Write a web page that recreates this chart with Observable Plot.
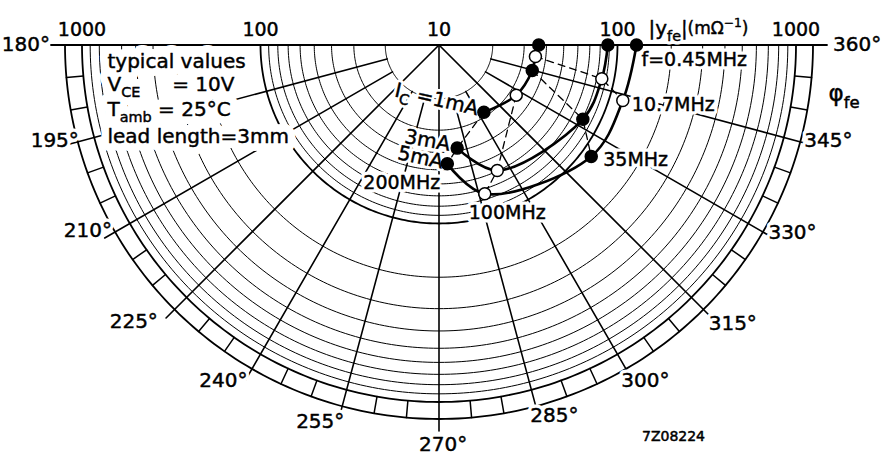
<!DOCTYPE html>
<html><head><meta charset="utf-8">
<script src="https://cdn.jsdelivr.net/npm/d3@7"></script>
<script src="https://cdn.jsdelivr.net/npm/@observablehq/plot@0.6"></script>
<style>html,body{margin:0;padding:0;background:#fff;} text{white-space:pre;}</style>
</head><body><div id="chart"></div>
<script>
// ---------- data ----------
const currents = ["1mA", "3mA", "5mA"];
const frequencies = ["0.45MHz", "10.7MHz", "35MHz", "100MHz", "200MHz"];
const markerFilled = [true, false, true, false, true];
// |y_fe| in mA/V (log radius) and phase in degrees
const mag1mA   = [36.2, 35.0, 34.8, 32.8, 28.4];
const phase1mA = [360, 353.2, 344.7, 327.0, 303.7];
const mag3mA   = [88.3, 85.4, 80.7, 59.6, 38.6];
const phase3mA = [360, 348.3, 332.7, 294.9, 280.0];
const mag5mA   = [127.8, 119.0, 114.0, 74.5, 46.5];
const phase5mA = [360, 343.2, 323.8, 287.1, 274.0];

// grid / tick values
const magCircles = [20, 30, 40, 50, 60, 70, 80, 90, 100, 200, 300, 400, 500, 600, 700, 800, 900, 1000];
const decadeCircles = [100, 1000];
const magTickValues = [1000, 100, 10, 100, 1000];
const magTickSide = [180, 180, 0, 0, 0];
const angleMajor = [180, 195, 210, 225, 240, 255, 270, 285, 300, 315, 330, 345, 360];
const angleThroughCentre = [225, 270, 315];
const angleMinor = d3.range(185, 360, 5).filter(a => a % 15 !== 0);

// ---------- geometry ----------
const W = 888, H = 462;
const cx = 438.5, cy = 44.5, D = 178.5;       // centre = |y|=10, one decade = D px
const R_OUT = 374, R_EXT = 386;
const rad = d => d * Math.PI / 180;
const rOf = m => D * Math.log10(m / 10);
const px = (r, a) => cx + r * Math.cos(rad(a));
const py = (r, a) => cy - r * Math.sin(rad(a));
const arcDeg = d3.range(180, 360.001, 1);
const arc = (key, r) => arcDeg.map(a => ({key, x: px(r, a), y: py(r, a)}));

const thinArcs = magCircles.filter(m => !decadeCircles.includes(m)).flatMap(m => arc(m, rOf(m)));
const thickArcs = decadeCircles.flatMap(m => arc(m, rOf(m))).concat(arc("outer", R_OUT));
const radials = angleMajor.filter(a => a > 180 && a < 360).flatMap(a => {
  const r0 = angleThroughCentre.includes(a) ? 0 : rOf(20);
  return [r0, R_EXT].map(r => ({a, x: px(r, a), y: py(r, a)}));
});
const minorTicks = angleMinor.flatMap(a => [rOf(1000), R_OUT].map(r => ({a, x: px(r, a), y: py(r, a)})));
const axisLine = [{x: px(R_EXT + 2, 180), y: cy}, {x: px(R_EXT + 2, 0), y: cy}];

const series = [
  {current: currents[0], mag: mag1mA, phase: phase1mA},
  {current: currents[1], mag: mag3mA, phase: phase3mA},
  {current: currents[2], mag: mag5mA, phase: phase5mA}
];
const pts = series.flatMap(s => frequencies.map((f, i) => {
  const r = rOf(s.mag[i]);
  return {current: s.current, freq: f, i, filled: markerFilled[i], x: px(r, s.phase[i]), y: py(r, s.phase[i])};
}));

// ---------- labels ----------
const topLabels = magTickValues.map((m, i) => ({text: String(m), x: px(rOf(m), magTickSide[i]), y: cy}));
const degLabelAngle = [180, 194, 207.8, 222.2, 237.3, 252.5, 270.6, 287.3, 301.6, 316.5, 332.1, 346.2, 360];
const degLabelRadius = [389, 396, 397, 412, 399, 395, 400, 388, 394, 405, 400, 401, 394];
const degLabels = angleMajor.map((a, i) => ({
  a, text: a + "°", x: px(degLabelRadius[i], degLabelAngle[i]), y: py(degLabelRadius[i], degLabelAngle[i])
}));
const five = pts.filter(d => d.current === "5mA");
const freqText = ["f=0.45MHz", "10.7MHz", "35MHz", "100MHz", "200MHz"];
const freqDx = [5, 9, 12, -16, -84];
const freqDy = [15, 4, 3, 19, 19];
const freqLabels = five.map((d, i) => ({text: freqText[i], x: d.x + freqDx[i], y: d.y + freqDy[i]}));
const infoLines = [
  {text: "typical values", x: 107, y: 60.6},
  {text: "V_{CE}\u00a0\u00a0\u00a0\u00a0\u00a0= 10V", x: 107, y: 83.6},
  {text: "T_{amb} = 25°C", x: 107, y: 108.6},
  {text: "lead length=3mm", x: 107, y: 135.6}
];
const currentLabels = [
  {text: "I_{C} =1mA", x: 436, y: 99, rot: 13},
  {text: "3mA", x: 427, y: 140, rot: 10},
  {text: "5mA", x: 420, y: 157, rot: 12}
];

// text with a white halo drawn underneath all texts of the group
function label(data, opts, haloWidth = 7) {
  const base = {x: "x", y: "y", text: "text", ...opts};
  return [
    Plot.text(data, {...base, fill: "white", stroke: "white", strokeWidth: haloWidth, strokeLinejoin: "round"}),
    Plot.text(data, {...base, fill: "black", stroke: "black", strokeWidth: 0.45})
  ];
}
const rot = d => d.rot;

const plot = Plot.plot({
  width: W, height: H, margin: 0,
  x: {domain: [0, W], range: [0, W], axis: null},
  y: {domain: [0, H], range: [0, H], axis: null},
  style: {fontFamily: "DejaVu Sans, sans-serif", background: "white", color: "black"},
  marks: [
    Plot.line(thinArcs, {x: "x", y: "y", z: "key", stroke: "black", strokeWidth: 1}),
    Plot.line(thickArcs, {x: "x", y: "y", z: "key", stroke: "black", strokeWidth: 1.8}),
    Plot.line(radials, {x: "x", y: "y", z: "a", stroke: "black", strokeWidth: 1.6}),
    Plot.line(minorTicks, {x: "x", y: "y", z: "a", stroke: "black", strokeWidth: 1.5}),
    Plot.line(axisLine, {x: "x", y: "y", stroke: "black", strokeWidth: 1.8}),
    ...label(infoLines, {textAnchor: "start", fontSize: 20}, 16),
    ...label(topLabels, {dy: -15, fontSize: 19}),
    ...label(degLabels.filter(d => d.a === 180), {textAnchor: "end", fontSize: 20}),
    ...label(degLabels.filter(d => d.a === 360), {textAnchor: "start", fontSize: 20}),
    ...label(degLabels.filter(d => d.a > 180 && d.a < 360), {fontSize: 20}),
    ...label(freqLabels, {textAnchor: "start", fontSize: 19}),
    ...label(currentLabels, {rotate: rot, fontSize: 20}, 6),
    ...label([{text: "|y_{fe}|", x: 648, y: 27.6}], {textAnchor: "start", fontSize: 20}),
    ...label([{text: "(mΩ^{−1})", x: 687, y: 28.5}], {textAnchor: "start", fontSize: 17}),
    ...label([{text: "φ_{fe}", x: 828, y: 93}], {textAnchor: "start", fontSize: 23}),
    Plot.text([{text: "7Z08224", x: 673, y: 436}], {x: "x", y: "y", text: "text", fontSize: 14, fill: "black", stroke: "black", strokeWidth: 0.5}),
    Plot.line(pts, {x: "x", y: "y", z: "current", curve: "catmull-rom", stroke: "black", strokeWidth: 2.6}),
    Plot.line(pts.filter(d => d.i > 0), {x: "x", y: "y", z: "freq", stroke: "black", strokeWidth: 1.3, strokeDasharray: "7,5"}),
    Plot.dot(pts, {x: "x", y: "y", r: 6, fill: d => d.filled ? "black" : "white", stroke: "black", strokeWidth: 1.5})
  ]
});
document.getElementById("chart").appendChild(plot);

// sub/superscripts: "_{..}" and "^{..}"
const NS = "http://www.w3.org/2000/svg";
plot.querySelectorAll("text").forEach(el => {
  const s = el.textContent;
  if (!/[_^]\{/.test(s)) return;
  const fs = parseFloat(getComputedStyle(el).fontSize) || 20;
  while (el.firstChild) el.removeChild(el.firstChild);
  let cur = 0, last = 0, m;
  const re = /([_^])\{([^}]*)\}/g;
  const add = (txt, target, small) => {
    const t = document.createElementNS(NS, "tspan");
    t.textContent = txt;
    const dy = target - cur;
    if (dy) t.setAttribute("dy", dy);
    if (small) t.setAttribute("font-size", fs * 0.72);
    cur = target;
    el.appendChild(t);
  };
  while ((m = re.exec(s))) {
    if (m.index > last) add(s.slice(last, m.index), 0, false);
    add(m[2], m[1] === "_" ? 0.3 * fs : -0.42 * fs, true);
    last = re.lastIndex;
  }
  if (last < s.length) add(s.slice(last), 0, false);
});
</script>
</body></html>
